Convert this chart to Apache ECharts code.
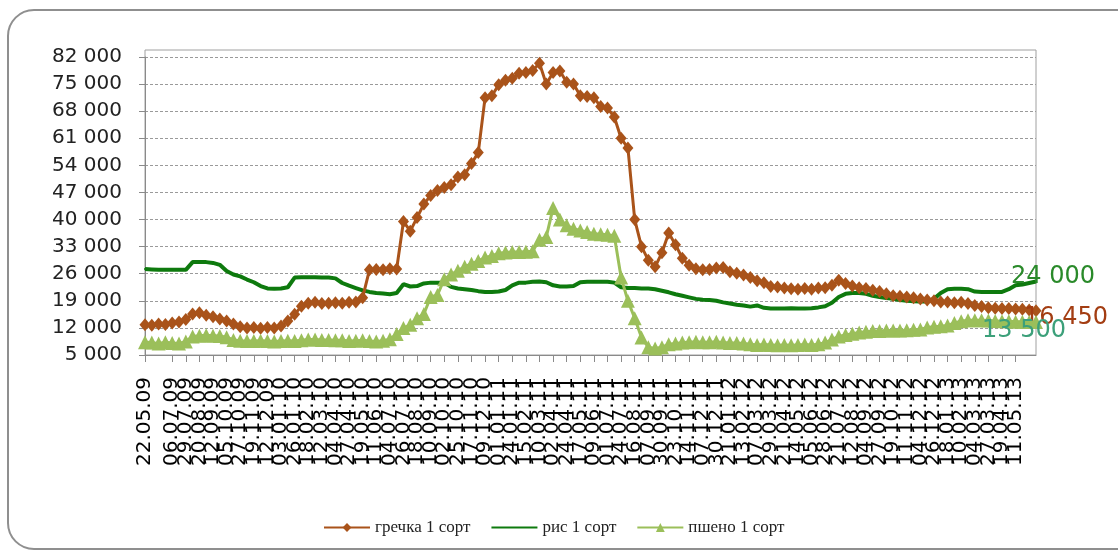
<!DOCTYPE html>
<html>
<head>
<meta charset="utf-8">
<script src="https://cdn.jsdelivr.net/npm/echarts@6/dist/echarts.min.js"></script>
<style>
  html, body { margin: 0; padding: 0; background: #fff; }
  #chart { width: 1118px; height: 557px; }
</style>
</head>
<body>
<div id="chart"></div>
<script>
// Dates of price observations
const dates = [
  '22.05.09','02.06.09','13.06.09','25.06.09','06.07.09','17.07.09','29.07.09','09.08.09','20.08.09','01.09.09','12.09.09','23.09.09',
  '05.10.09','16.10.09','27.10.09','08.11.09','19.11.09','30.11.09','12.12.09','23.12.09','03.01.10','15.01.10','26.01.10','06.02.10',
  '18.02.10','01.03.10','12.03.10','24.03.10','04.04.10','15.04.10','27.04.10','08.05.10','19.05.10','31.05.10','11.06.10','22.06.10',
  '04.07.10','15.07.10','26.07.10','07.08.10','18.08.10','29.08.10','10.09.10','21.09.10','02.10.10','14.10.10','25.10.10','05.11.10',
  '17.11.10','28.11.10','09.12.10','21.12.10','01.01.11','12.01.11','24.01.11','04.02.11','15.02.11','27.02.11','10.03.11','21.03.11',
  '02.04.11','13.04.11','24.04.11','06.05.11','17.05.11','28.05.11','09.06.11','20.06.11','01.07.11','13.07.11','24.07.11','04.08.11',
  '16.08.11','27.08.11','07.09.11','19.09.11','30.09.11','11.10.11','23.10.11','03.11.11','14.11.11','26.11.11','07.12.11','18.12.11',
  '30.12.11','10.01.12','21.01.12','02.02.12','13.02.12','24.02.12','07.03.12','18.03.12','29.03.12','10.04.12','21.04.12','02.05.12',
  '14.05.12','25.05.12','05.06.12','17.06.12','28.06.12','09.07.12','21.07.12','01.08.12','12.08.12','24.08.12','04.09.12','15.09.12',
  '27.09.12','08.10.12','19.10.12','31.10.12','11.11.12','22.11.12','04.12.12','15.12.12','26.12.12','07.01.13','18.01.13','29.01.13',
  '10.02.13','21.02.13','04.03.13','16.03.13','27.03.13','07.04.13','19.04.13','30.04.13','11.05.13','23.05.13','03.06.13','14.06.13'
];

// гречка 1 сорт, руб./т
const grechka = [
  12800,12700,13000,12900,13300,13500,14200,15600,15900,15300,14900,14300,
  13800,13000,12300,12000,12100,11900,12100,12000,12500,13800,15500,17600,
  18400,18600,18300,18400,18500,18400,18600,18700,19800,27000,27100,27000,
  27300,27200,39500,37000,40500,44000,46200,47500,48300,49000,51000,51600,
  54500,57300,71500,72000,74800,76000,76500,77800,78000,78500,80400,75000,
  78000,78400,75500,75000,72000,71800,71500,69200,68800,66500,61000,58500,
  40000,33000,29500,27800,31400,36500,33500,30000,28200,27300,27000,27100,
  27500,27600,26500,26100,25700,25000,24200,23700,22700,22600,22300,22100,
  22000,22200,22000,22300,22400,23000,24300,23500,22800,22400,22200,21700,
  21400,20800,20300,20200,20000,19800,19500,19200,19000,18700,18700,18500,
  18600,18300,17800,17500,17200,17100,17000,17000,16900,16800,16600,16450
];

// рис 1 сорт
const ris = [
  27200,27100,27000,27000,27000,27000,27000,29000,29000,29000,28800,28300,
  26700,25800,25300,24500,23800,22800,22200,22100,22200,22500,25000,25100,
  25100,25100,25000,25000,24800,23600,22900,22300,21700,21300,21000,20900,
  20700,21000,23300,22700,22800,23500,23700,23700,23700,22600,22200,22000,
  21800,21500,21300,21300,21400,21800,23000,23700,23700,23900,24000,23800,
  23000,22700,22700,22800,23800,23900,23900,23900,23900,23700,22500,22300,
  22300,22200,22200,22000,21600,21200,20700,20300,19900,19500,19300,19200,
  19000,18600,18300,18000,17800,17500,17800,17200,17000,17000,17000,17100,
  17000,17000,17100,17300,17600,18500,20000,20800,21000,21000,20800,20300,
  20000,19700,19500,19200,19000,18900,18800,18800,19500,21000,22000,22100,
  22100,22000,21400,21300,21300,21300,21300,22000,23000,23200,23600,24000
];

// пшено 1 сорт
const psheno = [
  8300,8200,8000,8300,8100,8000,8500,9800,10000,10100,10000,9900,
  9600,8900,8700,8600,8600,8700,8600,8500,8600,8700,8600,8800,
  9000,9000,8900,8900,8800,8800,8600,8700,8800,8600,8500,8700,
  9100,10400,12000,12800,14500,15600,20000,20500,24600,25800,26800,27800,
  28600,29300,30200,30600,31300,31500,31600,31600,31700,31800,34800,35500,
  43000,40000,38500,37600,37200,36800,36300,36200,36100,35800,25000,19000,
  14500,9500,7000,6700,7000,7800,8000,8200,8300,8400,8300,8300,
  8400,8200,8100,8100,8000,7800,7600,7700,7600,7500,7600,7500,
  7600,7700,7600,7800,8200,9000,9800,10200,10500,10800,11000,11200,
  11200,11300,11300,11300,11400,11500,11600,12100,12300,12400,12600,13300,
  13700,14000,14000,14000,13900,13800,13700,13700,13600,13600,13500,13500
];

const seriesNames = ['гречка 1 сорт', 'рис 1 сорт', 'пшено 1 сорт'];
const yMin = 5000, yMax = 82000, yStep = 7000;

// thousands separated by a space: 82 000
const fmt = v => String(v).replace(/\B(?=(\d{3})+(?!\d))/g, ' ');

// attach a value label to the last point of a series
function withEndLabel(values, label) {
  return values.map((v, i) => i === values.length - 1
    ? { value: v, label: Object.assign({
        show: true, position: 'inside',
        formatter: p => fmt(p.value),
        fontFamily: 'DejaVu Sans', fontSize: 24
      }, label) }
    : v);
}

const chart = echarts.init(document.getElementById('chart'), null, { renderer: 'canvas' });

chart.setOption({
  animation: false,
  backgroundColor: '#ffffff',
  grid: { left: 145, right: 82, top: 57, bottom: 202, containLabel: false },
  graphic: [
    { type: 'rect', z: -10, silent: true,
      shape: { x: 8, y: 10, width: 1135, height: 539, r: 26 },
      style: { fill: 'none', stroke: '#8f8f8f', lineWidth: 2 } },
    { type: 'rect', z: -10, silent: true,
      shape: { x: 145, y: 50, width: 891, height: 305 },
      style: { fill: 'none', stroke: '#a0a0a0', lineWidth: 1 } }
  ],
  legend: {
    data: [
      seriesNames[0],
      { name: seriesNames[1], itemStyle: { opacity: 0 } },
      seriesNames[2]
    ],
    left: 318, top: 514,
    itemWidth: 46, itemHeight: 11, itemGap: 20,
    textStyle: { fontFamily: 'Liberation Serif', fontSize: 17, color: '#222' }
  },
  xAxis: {
    type: 'category',
    data: dates,
    boundaryGap: false,
    axisLine: { lineStyle: { color: '#8a8a8a', width: 1 } },
    axisTick: { interval: 1, length: 7, lineStyle: { color: '#8a8a8a' } },
    axisLabel: {
      interval: 1, rotate: 90, margin: 22,
      showMinLabel: true, showMaxLabel: false, hideOverlap: false,
      fontFamily: 'DejaVu Sans', fontSize: 20, color: '#000'
    },
    splitLine: { show: false }
  },
  yAxis: {
    type: 'value',
    min: yMin, max: yMax, interval: yStep,
    axisLine: { show: true, lineStyle: { color: '#8a8a8a' } },
    axisTick: { show: true, length: 6, lineStyle: { color: '#8a8a8a' } },
    axisLabel: {
      margin: 23, formatter: v => fmt(v),
      fontFamily: 'DejaVu Sans', fontSize: 20, color: '#222'
    },
    splitLine: { show: true, lineStyle: { type: [3, 2], color: '#9a9a9a', width: 1 } }
  },
  series: [
    {
      name: seriesNames[0], type: 'line', z: 3,
      data: withEndLabel(grechka, { color: '#A33D12', offset: [30, 7] }),
      color: '#A9531A',
      lineStyle: { width: 3, color: '#A9531A' },
      symbol: 'diamond', symbolSize: [11, 13], showAllSymbol: true,
      itemStyle: { color: '#A9531A' },
      emphasis: { disabled: true }
    },
    {
      name: seriesNames[1], type: 'line', z: 2,
      data: withEndLabel(ris, { color: '#2A8A2A', offset: [17, -5] }),
      color: '#0E7A0E',
      lineStyle: { width: 4, color: '#0E7A0E' },
      symbol: 'circle', symbolSize: 2, showAllSymbol: true,
      itemStyle: { color: '#0E7A0E' },
      emphasis: { disabled: true }
    },
    {
      name: seriesNames[2], type: 'line', z: 4,
      data: withEndLabel(psheno, { color: '#3CA07A', offset: [-12, 9] }),
      color: '#9BBF5A',
      lineStyle: { width: 3, color: '#9BBF5A' },
      symbol: 'triangle', symbolSize: 14, showAllSymbol: true,
      itemStyle: { color: '#9BBF5A' },
      emphasis: { disabled: true }
    }
  ]
});
</script>
</body>
</html>
